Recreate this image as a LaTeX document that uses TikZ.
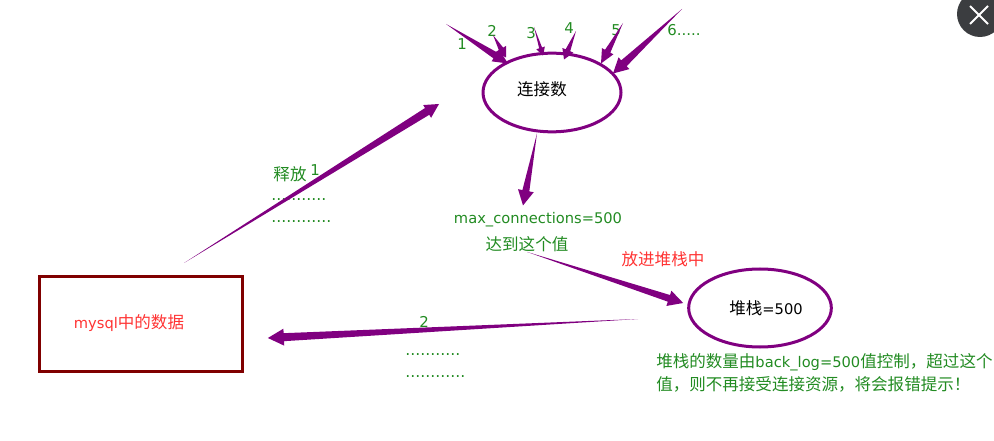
\documentclass[tikz,border=0pt]{standalone}
\usepackage{fontspec}
\setmainfont{DejaVu Sans}
\newfontfamily\cjk{Noto Sans CJK SC}
\usetikzlibrary{calc,shapes.geometric}
\definecolor{morado}{HTML}{800080}
\definecolor{guinda}{HTML}{800000}
\definecolor{verde}{HTML}{228B22}
\definecolor{rojo}{HTML}{FF3333}
\definecolor{gris}{HTML}{3B3D40}
\tikzset{
  nube/.style={draw=morado, line width=2.25pt, ellipse, inner sep=0pt},
  etiqueta/.style={inner sep=0pt, text=verde, font=\fontsize{11.2}{13}\selectfont},
  aviso/.style={inner sep=0pt, text=rojo, font=\fontsize{12}{14}\selectfont},
  puntos/.style={inner sep=0pt, anchor=base west, text=verde, font=\fontsize{11.8}{14}\selectfont}
}
% flecha afilada: cola, punta, medio cuerpo, largo de punta, media punta
\newcommand{\flecha}[5]{
  \coordinate (cab) at ($(#2)!#4*0.75pt!(#1)$);
  \fill[morado] (#1) -- ($(cab)!#3*0.75pt!90:(#1)$) -- ($(cab)!#5*0.75pt!90:(#1)$) -- (#2)
    -- ($(cab)!#5*0.75pt!-90:(#1)$) -- ($(cab)!#3*0.75pt!-90:(#1)$) -- cycle;
}
\begin{document}
\begin{tikzpicture}[x=0.75pt, y=-0.75pt]
  \useasboundingbox (0,0) rectangle (994,441);
  \clip (0,0) rectangle (994,441);

  % Boton de cierre
  \fill[gris] (980,14) circle (23);
  \draw[white, line width=1.5pt] (970,6) -- (988,24) (988,6) -- (970,24);

  % Nodos principales
  \node[nube, minimum width=103.5pt, minimum height=59pt] (conexiones) at (552,92.5) {};
  \node[inner sep=0pt, font=\cjk\fontsize{12.4}{14}\selectfont] (conexionestxt) at (542,89) {连接数};
  \node[nube, minimum width=107pt, minimum height=58.5pt] (pila) at (760,308) {};
  \node[inner sep=0pt, font=\fontsize{11}{14}\selectfont] (pilatxt) at (766,308) {{\cjk\fontsize{12.4}{14}\selectfont 堆栈}=500};
  \node[draw=guinda, line width=2.25pt, minimum width=152pt, minimum height=71.5pt, inner sep=0pt] (datos) at (141,324) {};
  \node[aviso, font=\fontsize{11}{14}\selectfont] (datostxt) at (129,323) {mysql{\cjk\fontsize{12.4}{14}\selectfont 中的数据}};

  % Numeros de las conexiones
  \node[etiqueta] (n1) at (462,44) {1};
  \node[etiqueta] (n2) at (492,31) {2};
  \node[etiqueta] (n3) at (531,33) {3};
  \node[etiqueta] (n4) at (569,28) {4};
  \node[etiqueta] (n5) at (616,30) {5};
  \node[etiqueta, anchor=west] (n6) at (667,30) {6.....};

  % Textos del centro
  \node[etiqueta, font=\fontsize{11}{13}\selectfont] (maximo) at (538,220) {max\_connections=500};
  \node[etiqueta, font=\cjk\fontsize{12.4}{14}\selectfont] (alcanza) at (527,244) {达到这个值};
  \node[aviso, font=\cjk\fontsize{12.4}{14}\selectfont] (meter) at (663,259) {放进堆栈中};

  % Liberar
  \node[etiqueta, font=\cjk\fontsize{12.4}{14}\selectfont] (liberar) at (290,174) {释放};
  \node[etiqueta] (uno) at (315,170) {1};
  \node[puntos] (p1) at (271,201) {...........};
  \node[puntos] (p2) at (271,223) {............};

  % Retorno
  \node[etiqueta] (dos) at (424,322) {2};
  \node[puntos] (p3) at (405,355) {...........};
  \node[puntos] (p4) at (405,377) {............};

  % Nota de la pila
  \node[etiqueta, anchor=base west, font=\fontsize{11}{14}\selectfont] (nota1) at (656,367) {{\cjk\fontsize{12.4}{14}\selectfont 堆栈的数量由}back\_log=500{\cjk\fontsize{12.4}{14}\selectfont 值控制，超过这个}};
  \node[etiqueta, anchor=base west, font=\cjk\fontsize{12.4}{14}\selectfont] (nota2) at (656,390) {值，则不再接受连接资源，将会报错提示！};

  % Extremos libres
  \coordinate (c1) at (446,24);
  \coordinate (c2) at (493,35);
  \coordinate (c3) at (534,27);
  \coordinate (c4) at (576,31);
  \coordinate (c5) at (623,23);
  \coordinate (c6) at (682,9);
  \coordinate (csube) at (184,263);
  \coordinate (cvuelve) at (638,319);
  \coordinate (psube) at (439,104);

  % Flechas hacia conexiones
  \flecha{c1}{$(conexiones.center)+(-44,-29)$}{3.5}{15}{7}
  \flecha{c2}{$(conexiones.center)+(-46,-35)$}{2.5}{10}{6}
  \flecha{c3}{$(conexiones.center)+(-9,-37)$}{1.5}{8}{4.5}
  \flecha{c4}{$(conexiones.center)+(12,-33)$}{2.5}{10}{6}
  \flecha{c5}{$(conexiones.center)+(49,-29)$}{3}{14}{6.5}
  \flecha{c6}{$(conexiones.center)+(61,-19)$}{4}{15}{8}

  % Resto de flechas
  \flecha{$(conexiones.south)+(-15,0)$}{$(maximo.north)+(-15,-7)$}{3.5}{15}{8}
  \flecha{csube}{psube}{4}{14}{7.5}
  \flecha{alcanza.south}{$(pila.west)+(-4,-5)$}{3.5}{15}{8}
  \flecha{cvuelve}{$(datos.east)+(24,14)$}{4}{16}{8.5}
\end{tikzpicture}
\end{document}
